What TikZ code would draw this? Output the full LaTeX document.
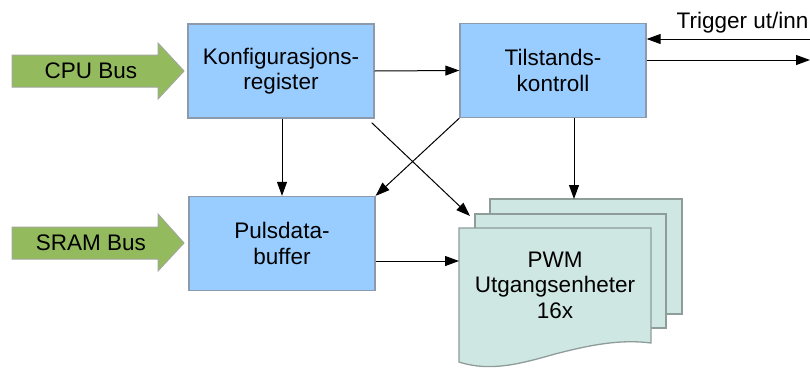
\documentclass[tikz,border=0pt]{standalone}
\usepackage{fontspec}
\setmainfont{Liberation Sans}
\usetikzlibrary{arrows.meta}
\definecolor{boxblue}{HTML}{99CCFF}
\definecolor{boxedge}{HTML}{8C9AAB}
\definecolor{busgreen}{HTML}{93BB5E}
\definecolor{busedge}{HTML}{A0A89A}
\definecolor{pwmfill}{HTML}{CFE7E3}
\definecolor{pwmedge}{HTML}{8E9C9A}
\begin{document}
\begin{tikzpicture}[x=1pt,y=-1pt,
  every node/.style={font=\fontsize{22.5}{25.5}\selectfont, align=center, inner sep=0pt},
  block/.style={draw=boxedge, fill=boxblue, line width=1.3pt, minimum width=186pt, minimum height=94pt},
  sheet/.style={draw=pwmedge, fill=pwmfill, line width=1.3pt},
  bus/.style={draw=busedge, fill=busgreen, line width=1pt},
  conn/.style={line width=1pt, -{Triangle[length=14pt,width=10pt]}}]
\useasboundingbox (0,0) rectangle (810,367);

% green bus arrows
\draw[bus] (12,55) -- (158,55) -- (158,43) -- (184,71) -- (158,99) -- (158,87) -- (12,87) -- cycle;
\node (cpu) at (91,71) {CPU Bus};
\draw[bus] (12,227) -- (158,227) -- (158,214) -- (184,243) -- (158,271) -- (158,259) -- (12,259) -- cycle;
\node (sram) at (91,243) {SRAM Bus};

% blocks
\node[block] (konf) at (281,71) {Konfigurasjons-\\register};
\node[block] (tils) at (553,70.5) {Tilstands-\\kontroll};
\node[block] (puls) at (282,243.5) {Pulsdata-\\buffer};

% PWM stacked sheets
\draw[sheet] (490,199) rectangle (682,314);
\draw[sheet] (475,214) rectangle (666,328);
\draw[sheet] (459,228) -- (651,228) -- (651,343)
  .. controls (620,339) and (590,345) .. (555,354)
  .. controls (520,364) and (490,372) .. (459,362) -- cycle;
\node (pwm) at (555,285) {PWM\\Utgangsenheter\\16x};
\coordinate (pwmin) at (459,261);
\coordinate (pwmmid) at (470,216);
\coordinate (pwmback) at (574,199);

% trigger
\node[anchor=base] (trig) at (742.5,28) {Trigger ut/inn};
\coordinate (trigin) at (810,39);
\coordinate (trigout) at (810,60);

% connectors
\draw[conn] (konf.east) -- (tils.west);
\draw[conn] (konf.south -| puls.north) -- (puls.north);
\draw[conn] ([shift={(-3,4)}]konf.south east) -- (pwmmid);
\draw[conn] (tils.south west) -- (puls.north east);
\draw[conn] (tils.south -| pwmback) -- (pwmback);
\draw[conn] (puls.east |- pwmin) -- (pwmin);
\draw[conn] (trigin) -- (tils.east |- trigin);
\draw[conn] (tils.east |- trigout) -- (trigout);
\end{tikzpicture}
\end{document}
